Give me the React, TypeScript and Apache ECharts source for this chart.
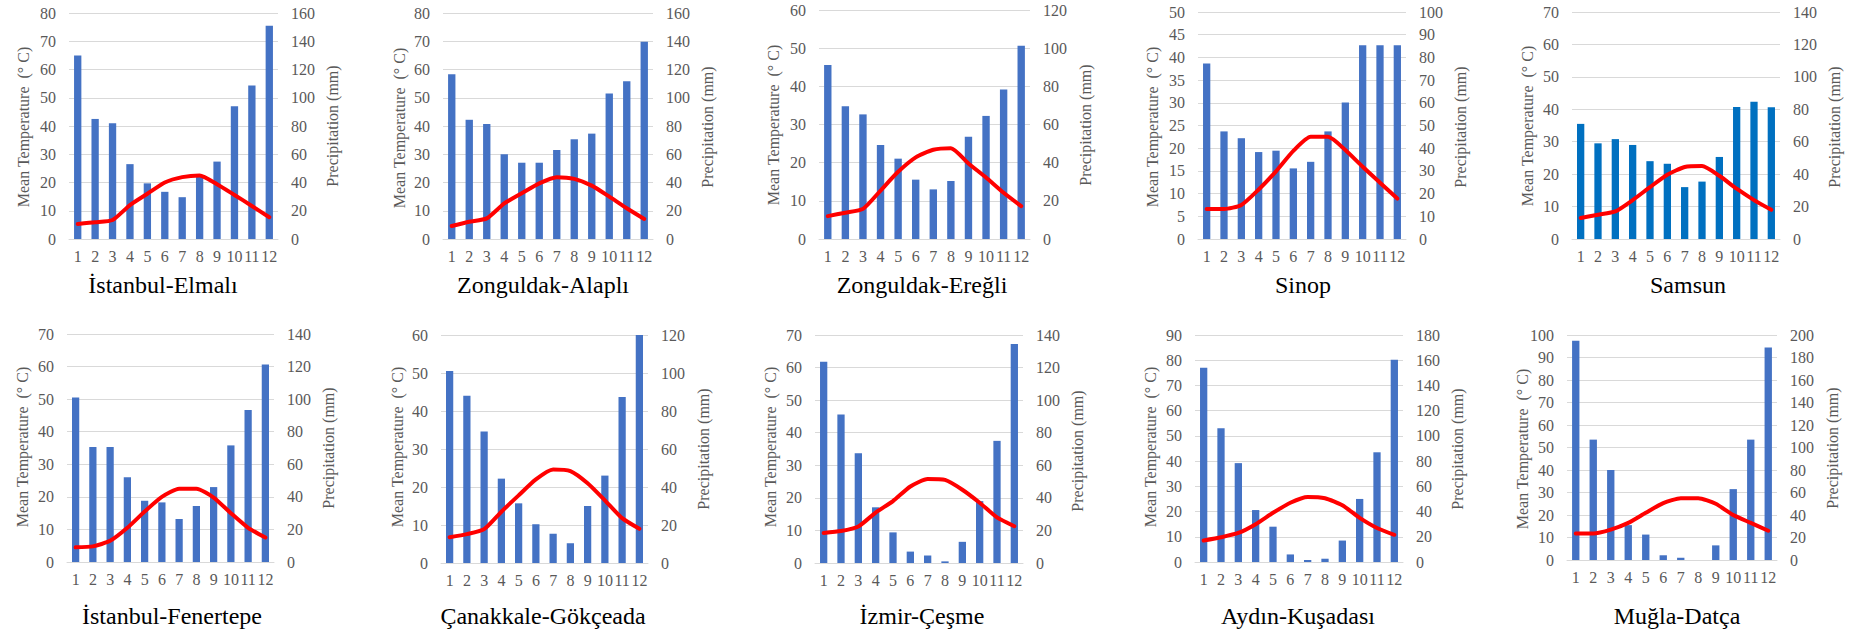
import React, { useEffect, useRef } from "react";
import * as echarts from "echarts";

// ---------------- DATA ----------------
const months = ["1", "2", "3", "4", "5", "6", "7", "8", "9", "10", "11", "12"];

const stations = [
  "İstanbul-Elmalı",
  "Zonguldak-Alaplı",
  "Zonguldak-Ereğli",
  "Sinop",
  "Samsun",
  "İstanbul-Fenertepe",
  "Çanakkale-Gökçeada",
  "İzmir-Çeşme",
  "Aydın-Kuşadası",
  "Muğla-Datça",
];

// Mean temperature (°C)
const tempElmali = [5.3, 5.9, 6.7, 12, 16, 20, 21.9, 22.5, 19.4, 15.6, 11.7, 7.7];
const tempAlapli = [4.6, 6.1, 7.3, 12.6, 16.2, 19.7, 21.9, 21.3, 18.9, 15, 10.9, 7.1];
const tempEregli = [6.0, 6.9, 7.9, 12.7, 17.6, 21.4, 23.4, 23.8, 19.8, 16.1, 12.1, 8.6];
const tempSinop = [6.6, 6.6, 7.5, 10.9, 14.9, 19.4, 22.5, 22.5, 19.6, 15.9, 12.4, 8.9];
const tempSamsun = [6.5, 7.5, 8.5, 12, 16, 19.8, 22.2, 22.5, 19.5, 15.5, 12, 9];
const tempFenertepe = [4.5, 4.8, 6.5, 10.5, 15.5, 20, 22.5, 22.5, 19.8, 15, 10.5, 7.5];
const tempGokceada = [6.8, 7.6, 8.9, 13.5, 17.8, 22, 24.6, 24.2, 21, 16.5, 11.8, 9];
const tempCesme = [9.2, 9.8, 11.2, 15.5, 19, 23.5, 25.8, 25.5, 22.5, 18.5, 14, 11.3];
const tempKusadasi = [8.5, 9.8, 11.5, 15, 19.5, 23.5, 25.8, 25.3, 22.5, 17.5, 13.5, 10.8];
const tempDatca = [11.8, 11.8, 13.5, 16.5, 21, 25.3, 27.5, 27.5, 25, 20, 16.5, 13];

// Precipitation (mm)
const precipElmali = [130, 85, 82, 53, 39.4, 33.4, 29.6, 44, 54.8, 94, 108.6, 151];
const precipAlapli = [116.6, 84.4, 81.4, 60, 54, 54, 63, 70.6, 74.6, 103, 111.6, 139.6];
const precipEregli = [91.2, 69.5, 65.3, 49.3, 42.1, 31.1, 26, 30.4, 53.6, 64.5, 78.3, 101.3];
const precipSinop = [77.3, 47.4, 44.4, 38.3, 38.9, 31.1, 34, 47.4, 60.1, 85.3, 85.3, 85.3];
const precipSamsun = [71, 59, 61.6, 58, 48, 46.4, 32, 35.4, 50.6, 81.4, 84.6, 81.2];
const precipFenertepe = [101, 70.6, 70.6, 52, 37.6, 36.6, 26.4, 34.4, 46, 71.6, 93.4, 121.2];
const precipGokceada = [101, 88, 69.2, 44.4, 31.4, 20.4, 15.4, 10.4, 30, 46, 87.4, 120];
const precipCesme = [123.6, 91.2, 67.4, 34.2, 18.8, 7, 4.6, 1, 13, 38, 75, 134.4];
const precipKusadasi = [154, 106, 78.4, 41.2, 28, 6, 1.6, 2.6, 17, 50, 87, 160.4];
const precipDatca = [195, 107, 80, 31, 22.6, 4.2, 2, 0, 13, 63, 107, 189];

const temperatures = [
  tempElmali, tempAlapli, tempEregli, tempSinop, tempSamsun,
  tempFenertepe, tempGokceada, tempCesme, tempKusadasi, tempDatca,
];
const precipitations = [
  precipElmali, precipAlapli, precipEregli, precipSinop, precipSamsun,
  precipFenertepe, precipGokceada, precipCesme, precipKusadasi, precipDatca,
];

// Axis tick ranges
const tempAxisMax = [80, 80, 60, 50, 70, 70, 60, 70, 90, 100];
const tempAxisStep = [10, 10, 10, 5, 10, 10, 10, 10, 10, 10];
const precipAxisMax = [160, 160, 120, 100, 140, 140, 120, 140, 180, 200];
const precipAxisStep = [20, 20, 20, 10, 20, 20, 20, 20, 20, 20];

const tempAxisName = "Mean Temperature  (° C)";
const precipAxisName = "Precipitation (mm)";

// ---------------- LAYOUT ----------------
const plotLeft = [69, 443, 819, 1198, 1572, 67, 441, 815, 1195, 1567];
const plotWidth = [209, 210, 211, 208, 208, 207, 207, 208, 208, 210];
const plotTop = [13, 13, 10, 12, 12, 334, 335, 335, 335, 335];
const plotBottom = [239, 239, 239, 239, 239, 562, 563, 563, 562, 560];
const titleX = [163, 543, 922, 1303, 1688, 172, 543, 922, 1298, 1677];
const titleY = [285, 285, 285, 285, 285, 616, 616, 616, 616, 616];
const leftNameX = [23, 399, 773, 1152, 1527, 22, 397, 770, 1150, 1522];
const leftNameY = [127, 128, 125, 127, 126, 447, 447, 447, 447, 449];
const rightNameX = [332, 707, 1085, 1460, 1834, 328, 703, 1077, 1457, 1832];
const rightNameY = [126, 127, 125, 127, 127, 448, 449, 451, 449, 448];
const barColors = ["#4472C4", "#4472C4", "#4472C4", "#4472C4", "#0070C0", "#4472C4", "#4472C4", "#4472C4", "#4472C4", "#4472C4"];

const FONT = "Liberation Serif";
const GRAY = "#595959";

export default function App() {
  const ref = useRef<HTMLDivElement>(null);

  useEffect(() => {
    if (!ref.current) return;
    const chart = echarts.init(ref.current, undefined, { renderer: "svg" });

    const grid: any[] = [];
    const xAxis: any[] = [];
    const yAxis: any[] = [];
    const series: any[] = [];
    const graphic: any[] = [];

    stations.forEach((name, i) => {
      grid.push({
        left: plotLeft[i],
        top: plotTop[i],
        width: plotWidth[i],
        height: plotBottom[i] - plotTop[i],
        containLabel: false,
      });
      xAxis.push({
        type: "category",
        gridIndex: i,
        data: months,
        boundaryGap: true,
        axisLine: { show: true, lineStyle: { color: "#d9d9d9", width: 1 } },
        axisTick: { show: false },
        axisLabel: {
          interval: 0,
          color: GRAY,
          fontFamily: FONT,
          fontSize: 16,
          margin: 9,
        },
        splitLine: { show: false },
      });
      yAxis.push({
        type: "value",
        gridIndex: i,
        min: 0,
        max: tempAxisMax[i],
        interval: tempAxisStep[i],
        axisLine: { show: false },
        axisTick: { show: false },
        axisLabel: { color: GRAY, fontFamily: FONT, fontSize: 16, margin: 13 },
        splitLine: { show: true, lineStyle: { color: "#d9d9d9", width: 1 } },
      });
      yAxis.push({
        type: "value",
        gridIndex: i,
        position: "right",
        min: 0,
        max: precipAxisMax[i],
        interval: precipAxisStep[i],
        axisLine: { show: false },
        axisTick: { show: false },
        axisLabel: { color: GRAY, fontFamily: FONT, fontSize: 16, margin: 13 },
        splitLine: { show: false },
      });
      series.push({
        type: "bar",
        name: "Precipitation",
        xAxisIndex: i,
        yAxisIndex: 2 * i + 1,
        data: precipitations[i],
        barWidth: "42%",
        itemStyle: { color: barColors[i] },
        z: 2,
      });
      series.push({
        type: "line",
        name: "Mean Temperature",
        xAxisIndex: i,
        yAxisIndex: 2 * i,
        data: temperatures[i],
        smooth: 0.2,
        showSymbol: false,
        symbol: "none",
        lineStyle: { color: "#FF0000", width: 4, cap: "round", join: "round" },
        z: 5,
      });
      graphic.push({
        type: "text",
        x: titleX[i],
        y: titleY[i],
        style: {
          text: name,
          fontFamily: FONT,
          fontSize: 24,
          fill: "#000000",
          align: "center",
          verticalAlign: "middle",
        },
      });
      graphic.push({
        type: "text",
        x: leftNameX[i],
        y: leftNameY[i],
        rotation: Math.PI / 2,
        style: {
          text: tempAxisName,
          fontFamily: FONT,
          fontSize: 16,
          fill: GRAY,
          align: "center",
          verticalAlign: "middle",
        },
      });
      graphic.push({
        type: "text",
        x: rightNameX[i],
        y: rightNameY[i],
        rotation: Math.PI / 2,
        style: {
          text: precipAxisName,
          fontFamily: FONT,
          fontSize: 16,
          fill: GRAY,
          align: "center",
          verticalAlign: "middle",
        },
      });
    });

    chart.setOption({
      animation: false,
      backgroundColor: "#ffffff",
      grid,
      xAxis,
      yAxis,
      series,
      graphic,
    });

    return () => chart.dispose();
  }, []);

  return (
    <div
      ref={ref}
      style={{ position: "absolute", left: 0, top: 0, width: 1867, height: 637 }}
    />
  );
}
